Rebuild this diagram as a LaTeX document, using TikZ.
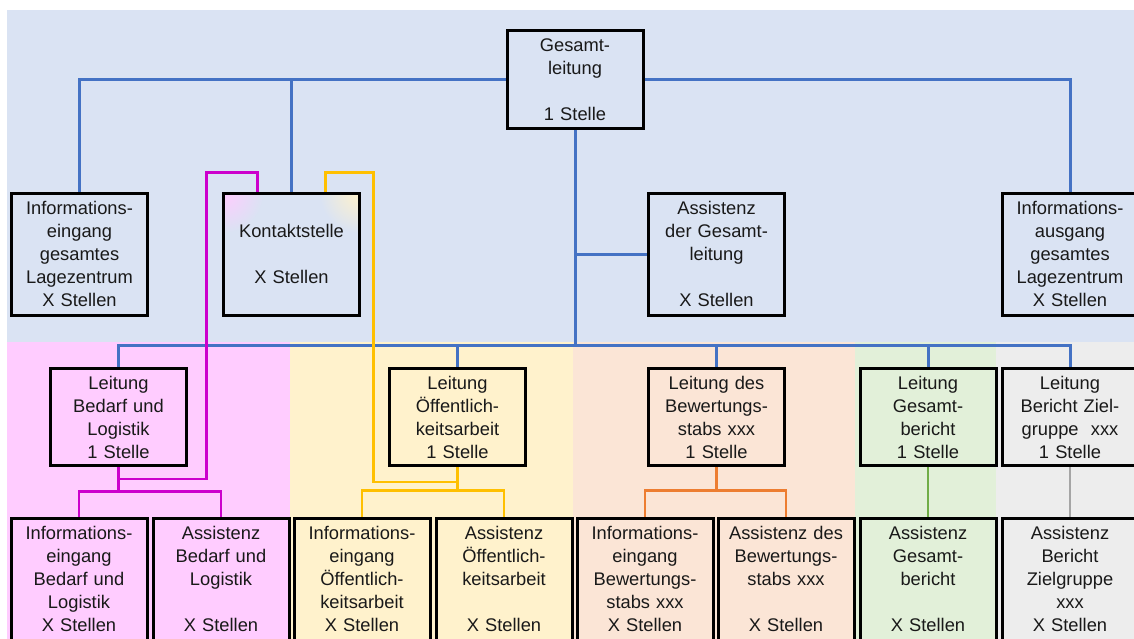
\documentclass[tikz,border=0pt]{standalone}
\usepackage{fontspec}
\setmainfont{Liberation Sans}
\definecolor{bgblue}{HTML}{DAE3F3}
\definecolor{bgpink}{HTML}{FFCCFF}
\definecolor{bgyellow}{HTML}{FFF2CC}
\definecolor{bgpeach}{HTML}{FBE5D6}
\definecolor{bggreen}{HTML}{E2F0D9}
\definecolor{bggrey}{HTML}{EDEDED}
\definecolor{lblue}{HTML}{4472C4}
\definecolor{lmag}{HTML}{CC00CC}
\definecolor{lyel}{HTML}{FFC000}
\definecolor{lora}{HTML}{ED7D31}
\definecolor{lgreen}{HTML}{70AD47}
\definecolor{lgrey}{HTML}{A5A5A5}
\begin{document}
\begin{tikzpicture}[x=1pt,y=1pt,
  box/.style={draw=black, line width=3pt, align=center, inner sep=0pt,
    text width=136pt, minimum width=136pt, text=black!90,
    font=\fontsize{18.3}{23}\selectfont},
  toprow/.style={box, minimum height=122pt, fill=bgblue},
  midrow/.style={box, minimum height=97pt},
  botrow/.style={box, minimum height=122pt},
  blueline/.style={draw=lblue, line width=3pt},
  magline/.style={draw=lmag, line width=2.6pt},
  yelline/.style={draw=lyel, line width=2.6pt},
  oraline/.style={draw=lora, line width=2.6pt},
  grnline/.style={draw=lgreen, line width=2.6pt},
  gryline/.style={draw=lgrey, line width=2.6pt}]
\useasboundingbox (0,0) rectangle (1134,-639);
\fill[white] (0,0) rectangle (1134,-639);
% background regions
\fill[bgblue] (7,-10) rectangle (1134,-342);
\fill[bgpink] (7,-342) rectangle (290,-639);
\fill[bgyellow] (290,-342) rectangle (573,-639);
\fill[bgpeach] (573,-342) rectangle (855,-639);
\fill[bggreen] (855,-342) rectangle (996,-639);
\fill[bggrey] (996,-342) rectangle (1134,-639);

% Kontaktstelle corner tint (drawn beneath its box)
\begin{scope}
  \clip (223.5,-193) rectangle (359.5,-315);
  \shade[inner color=bgpink, outer color=bgblue] (223.5,-193) circle (40pt);
  \shade[inner color=bgyellow, outer color=bgblue] (359.5,-193) circle (40pt);
\end{scope}

% top
\node[box, minimum height=98pt, fill=bgblue] (gesamt) at (575,-79.5)
  {Gesamt-\\leitung\\[23pt]1 Stelle};
% second row
\node[toprow] (infoE) at (79.5,-254)
  {Informations-\\eingang\\gesamtes\\Lagezentrum\\X Stellen};
\node[toprow, fill=none] (kontakt) at (291.5,-254)
  {Kontaktstelle\\[23pt]X Stellen};
\node[toprow] (assistG) at (716.5,-254)
  {Assistenz\\der Gesamt-\\leitung\\[23pt]X Stellen};
\node[toprow] (infoA) at (1070,-254)
  {Informations-\\ausgang\\gesamtes\\Lagezentrum\\X Stellen};

% third row
\node[midrow, fill=bgpink] (lBed) at (118.5,-417)
  {Leitung\\Bedarf und\\Logistik\\1 Stelle};
\node[midrow, fill=bgyellow] (lOff) at (457.5,-417)
  {Leitung\\Öffentlich-\\keitsarbeit\\1 Stelle};
\node[midrow, fill=bgpeach] (lBew) at (716.5,-417)
  {Leitung des\\Bewertungs-\\stabs xxx\\1 Stelle};
\node[midrow, fill=bggreen] (lGes) at (928,-417)
  {Leitung\\Gesamt-\\bericht\\1 Stelle};
\node[midrow, fill=bggrey] (lZiel) at (1070,-417)
  {Leitung\\Bericht Ziel-\\gruppe\ \ xxx\\1 Stelle};

% fourth row
\node[botrow, fill=bgpink] (iBed) at (79,-579)
  {Informations-\\eingang\\Bedarf und\\Logistik\\X Stellen};
\node[botrow, fill=bgpink] (aBed) at (221,-579)
  {Assistenz\\Bedarf und\\Logistik\\[23pt]X Stellen};
\node[botrow, fill=bgyellow] (iOff) at (362,-579)
  {Informations-\\eingang\\Öffentlich-\\keitsarbeit\\X Stellen};
\node[botrow, fill=bgyellow] (aOff) at (504,-579)
  {Assistenz\\Öffentlich-\\keitsarbeit\\[23pt]X Stellen};
\node[botrow, fill=bgpeach] (iBew) at (645,-579)
  {Informations-\\eingang\\Bewertungs-\\stabs xxx\\X Stellen};
\node[botrow, fill=bgpeach] (aBew) at (786,-579)
  {Assistenz des\\Bewertungs-\\stabs xxx\\[23pt]X Stellen};
\node[botrow, fill=bggreen] (aGes) at (928,-579)
  {Assistenz\\Gesamt-\\bericht\\[23pt]X Stellen};
\node[botrow, fill=bggrey] (aZiel) at (1070,-579)
  {Assistenz\\Bericht\\Zielgruppe\\xxx\\X Stellen};

% blue connectors
\coordinate (bus) at (575,-345);
\draw[blueline] (gesamt.west) -| (infoE.north);
\draw[blueline] (kontakt.north) -- (kontakt.north |- gesamt.west);
\draw[blueline] (gesamt.east) -| (infoA.north);
\draw[blueline] (gesamt.south) -- (bus);
\draw[blueline] (assistG.west) -- (assistG.west -| gesamt.south);
\draw[blueline] (lBed.north) |- (bus) -| (lZiel.north);
\draw[blueline] (lOff.north) -- (lOff.north |- bus);
\draw[blueline] (lBew.north) -- (lBew.north |- bus);
\draw[blueline] (lGes.north) -- (lGes.north |- bus);

% magenta
\coordinate (bJ) at ([yshift=-12pt]lBed.south);
\draw[magline] (lBed.south) -- ++(0,-25);
\draw[magline] (iBed.north) -- ++(0,25) -| (aBed.north);
\draw[magline] ([xshift=-34pt]kontakt.north) -- ++(0,19) -| ([xshift=88pt]bJ) -- (bJ);

% yellow
\coordinate (oJ) at ([yshift=-15pt]lOff.south);
\draw[yelline] (lOff.south) -- ++(0,-25);
\draw[yelline] (iOff.north) -- ++(0,26) -| (aOff.north);
\draw[yelline] ([xshift=34pt]kontakt.north) -- ++(0,19) -| ([xshift=-84pt]oJ) -- (oJ);

% orange
\draw[oraline] (lBew.south) -- ++(0,-25);
\draw[oraline] (iBew.north) -- ++(0,26) -| (aBew.north);

% green, grey
\draw[grnline] (lGes.south) -- (aGes.north);
\draw[gryline] (lZiel.south) -- (aZiel.north);
\end{tikzpicture}
\end{document}
